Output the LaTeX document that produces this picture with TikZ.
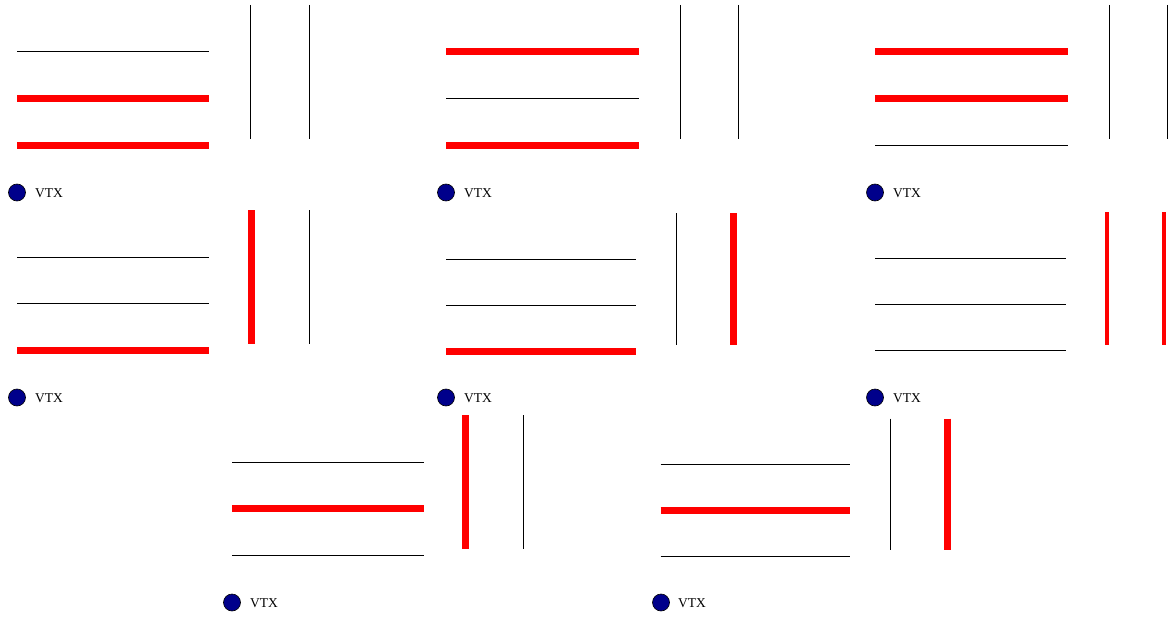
\documentclass[tikz,border=0pt]{standalone}
\usepackage{fontspec}
\setmainfont{Liberation Serif}
\begin{document}
\begin{tikzpicture}[x=1pt,y=-1pt,
  thinline/.style={draw=black,line width=1pt},
  fatline/.style={draw=red,line width=7pt},
  midline/.style={draw=red,line width=3.3pt},
  vtxdot/.style={circle,draw=black,line width=0.6pt,fill={rgb,255:red,0;green,0;blue,139},minimum size=17pt,inner sep=0pt},
  vtxlabel/.style={anchor=west,inner sep=0pt,font=\fontsize{13.5}{14}\selectfont}]
\useasboundingbox (0,0) rectangle (1171,618);
% Panel 1
\draw[thinline] (17,51.5) -- (209,51.5);
\draw[fatline] (17,98.5) -- (209,98.5);
\draw[fatline] (17,145) -- (209,145);
\draw[thinline] (250.5,5) -- (250.5,139);
\draw[thinline] (309,5) -- (309,139);
\node[vtxdot] (d1) at (17,192.5) {};
\node[vtxlabel] (t1) at (35,193) {VTX};
% Panel 2
\draw[fatline] (446,51.5) -- (639,51.5);
\draw[thinline] (446,98.5) -- (639,98.5);
\draw[fatline] (446,145) -- (639,145);
\draw[thinline] (680,5) -- (680,139);
\draw[thinline] (738,5) -- (738,139);
\node[vtxdot] (d2) at (446,192.5) {};
\node[vtxlabel] (t2) at (464,193) {VTX};
% Panel 3
\draw[fatline] (875,51.5) -- (1068,51.5);
\draw[fatline] (875,98.5) -- (1068,98.5);
\draw[thinline] (875,145) -- (1068,145);
\draw[thinline] (1109,5) -- (1109,139);
\draw[thinline] (1167,5) -- (1167,139);
\node[vtxdot] (d3) at (875,192.5) {};
\node[vtxlabel] (t3) at (893,193) {VTX};
% Panel 4
\draw[thinline] (17,257) -- (209,257);
\draw[thinline] (17,303.5) -- (209,303.5);
\draw[fatline] (17,350) -- (209,350);
\draw[fatline] (251,210) -- (251,344);
\draw[thinline] (309,210) -- (309,344);
\node[vtxdot] (d4) at (17,397.5) {};
\node[vtxlabel] (t4) at (35,398) {VTX};
% Panel 5
\draw[thinline] (446,259.5) -- (636,259.5);
\draw[thinline] (446,305.5) -- (636,305.5);
\draw[fatline] (446,351) -- (636,351);
\draw[thinline] (676,213) -- (676,345);
\draw[fatline] (733,213) -- (733,345);
\node[vtxdot] (d5) at (446,397.5) {};
\node[vtxlabel] (t5) at (464,398) {VTX};
% Panel 6
\draw[thinline] (875,258.5) -- (1066,258.5);
\draw[thinline] (875,304.5) -- (1066,304.5);
\draw[thinline] (875,350.5) -- (1066,350.5);
\draw[midline] (1107,212) -- (1107,345);
\draw[midline] (1164,212) -- (1164,345);
\node[vtxdot] (d6) at (875,397.5) {};
\node[vtxlabel] (t6) at (893,398) {VTX};
% Panel 7
\draw[thinline] (232,462) -- (424,462);
\draw[fatline] (232,508.5) -- (424,508.5);
\draw[thinline] (232,555) -- (424,555);
\draw[fatline] (465.5,415) -- (465.5,549);
\draw[thinline] (523.5,415) -- (523.5,549);
\node[vtxdot] (d7) at (232,602.5) {};
\node[vtxlabel] (t7) at (250,603) {VTX};
% Panel 8
\draw[thinline] (660.5,464.5) -- (850,464.5);
\draw[fatline] (660.5,510.5) -- (850,510.5);
\draw[thinline] (660.5,556) -- (850,556);
\draw[thinline] (890,418.5) -- (890,550);
\draw[fatline] (947,418.5) -- (947,550);
\node[vtxdot] (d8) at (661,602.5) {};
\node[vtxlabel] (t8) at (678,603) {VTX};
\end{tikzpicture}
\end{document}
